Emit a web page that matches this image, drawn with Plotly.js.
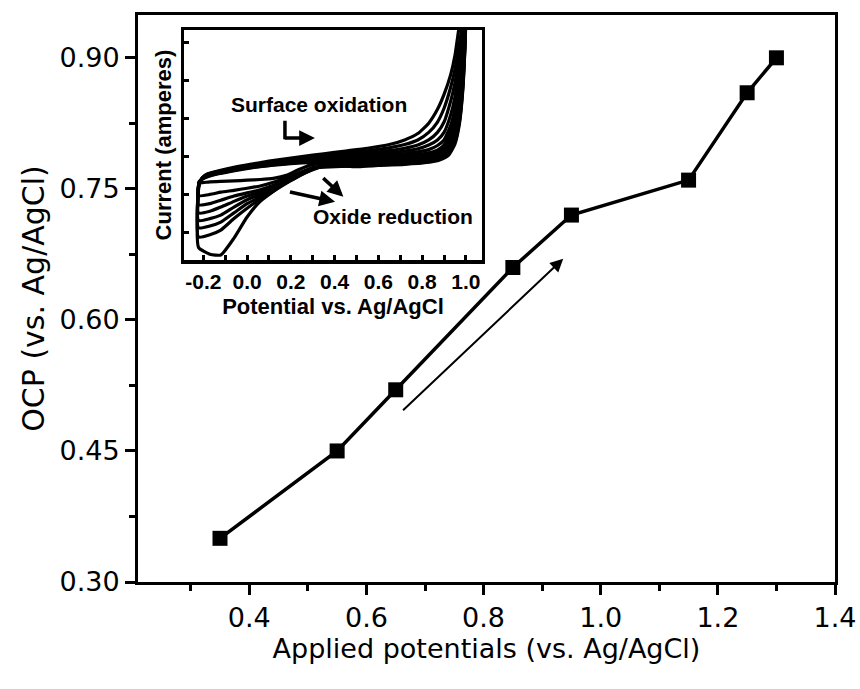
<!DOCTYPE html>
<html>
<head>
<meta charset="utf-8">
<script src="https://cdn.plot.ly/plotly-3.0.1.min.js"></script>
<style>html,body{margin:0;padding:0;background:#fff;}#chart{width:860px;height:689px;}</style>
</head>
<body>
<div id="chart"></div>
<script>
// ---- main series: OCP vs applied potential ----
const appliedPotential = [0.35, 0.55, 0.65, 0.85, 0.95, 1.15, 1.25, 1.30];
const ocp              = [0.35, 0.45, 0.52, 0.66, 0.72, 0.76, 0.86, 0.90];

// ---- inset: cyclic voltammograms (arbitrary current units) ----
const cvForwardE = [-0.222, -0.220, -0.205, -0.18, -0.13, -0.05, 0.05, 0.15, 0.25, 0.35, 0.45, 0.55, 0.65, 0.72, 0.78, 0.83, 0.87, 0.90, 0.93, 0.95, 0.97, 0.99, 1.0];
const cvReverseE = [1.0, 0.995, 0.985, 0.97, 0.95, 0.92, 0.88, 0.82, 0.72, 0.60, 0.48, 0.38, 0.30, 0.24, 0.18, 0.12, 0.06, 0.0, -0.06, -0.12, -0.17, -0.222];

const cycle1Fwd = [0.55, 3.2, 3.58, 3.75, 3.88, 4.05, 4.22, 4.37, 4.5, 4.62, 4.74, 4.86, 5.02, 5.22, 5.5, 5.95, 6.55, 7.2, 8.05, 8.9, 10.2, 11.0, 11.3];
const cycle2Fwd = [1.0, 3.25, 3.57, 3.73, 3.86, 4.02, 4.18, 4.32, 4.44, 4.55, 4.65, 4.75, 4.88, 5.02, 5.22, 5.55, 6.0, 6.6, 7.5, 8.3, 9.4, 10.6, 11.2];
const cycle3Fwd = [1.4, 3.3, 3.56, 3.71, 3.84, 4.0, 4.15, 4.28, 4.39, 4.49, 4.58, 4.66, 4.76, 4.86, 5.0, 5.22, 5.55, 6.0, 6.9, 7.7, 8.9, 10.4, 11.1];
const cycle4Fwd = [1.72, 3.3, 3.55, 3.69, 3.82, 3.98, 4.12, 4.25, 4.35, 4.44, 4.52, 4.58, 4.66, 4.74, 4.84, 5.0, 5.22, 5.55, 6.3, 7.1, 8.4, 10.1, 11.0];
const cycle5Fwd = [2.05, 3.32, 3.54, 3.67, 3.8, 3.96, 4.1, 4.22, 4.31, 4.39, 4.46, 4.51, 4.57, 4.63, 4.7, 4.8, 4.98, 5.22, 5.85, 6.6, 7.9, 9.8, 10.9];
const cycle6Fwd = [2.4, 3.33, 3.53, 3.66, 3.78, 3.94, 4.08, 4.19, 4.28, 4.35, 4.41, 4.45, 4.5, 4.54, 4.59, 4.66, 4.78, 5.0, 5.55, 6.3, 7.6, 9.6, 10.8];
const cycle7Fwd = [2.8, 3.35, 3.52, 3.64, 3.77, 3.92, 4.06, 4.17, 4.25, 4.31, 4.36, 4.4, 4.44, 4.47, 4.51, 4.56, 4.65, 4.85, 5.35, 6.1, 7.4, 9.4, 10.7];
const cycle8Fwd = [3.35, 3.4, 3.52, 3.62, 3.75, 3.9, 4.05, 4.15, 4.22, 4.27, 4.3, 4.33, 4.37, 4.4, 4.44, 4.5, 4.6, 4.8, 5.3, 6.0, 7.3, 9.3, 10.5];

const cycle1Rev = [11.2, 10.2, 8.8, 7.4, 6.2, 5.25, 4.75, 4.5, 4.38, 4.3, 4.24, 4.18, 3.92, 3.68, 3.37, 2.98, 2.55, 1.87, 0.95, 0.22, 0.25, 0.55];
const cycle2Rev = [11.2, 10.0, 8.5, 7.1, 5.95, 5.1, 4.66, 4.44, 4.33, 4.26, 4.2, 4.15, 3.95, 3.66, 3.34, 3.0, 2.65, 2.25, 1.8, 1.3, 1.1, 1.0];
const cycle3Rev = [11.1, 9.8, 8.2, 6.8, 5.75, 4.95, 4.58, 4.39, 4.29, 4.23, 4.17, 4.13, 3.97, 3.68, 3.37, 3.05, 2.75, 2.45, 2.05, 1.65, 1.48, 1.4];
const cycle4Rev = [11.0, 9.6, 7.9, 6.5, 5.55, 4.85, 4.52, 4.35, 4.26, 4.2, 4.15, 4.11, 3.98, 3.7, 3.4, 3.1, 2.85, 2.62, 2.3, 1.95, 1.8, 1.72];
const cycle5Rev = [10.9, 9.4, 7.7, 6.3, 5.4, 4.75, 4.46, 4.31, 4.23, 4.17, 4.12, 4.09, 4.0, 3.72, 3.45, 3.18, 2.95, 2.78, 2.55, 2.3, 2.12, 2.05];
const cycle6Rev = [10.8, 9.3, 7.5, 6.1, 5.25, 4.67, 4.41, 4.28, 4.2, 4.15, 4.1, 4.07, 4.0, 3.75, 3.5, 3.25, 3.05, 2.92, 2.78, 2.6, 2.45, 2.4];
const cycle7Rev = [10.7, 9.2, 7.4, 6.0, 5.15, 4.6, 4.38, 4.26, 4.18, 4.13, 4.08, 4.05, 4.02, 3.8, 3.58, 3.38, 3.22, 3.12, 3.03, 2.95, 2.85, 2.8];
const cycle8Rev = [10.5, 9.1, 7.3, 5.9, 5.05, 4.55, 4.35, 4.24, 4.16, 4.11, 4.06, 4.2, 4.15, 3.95, 3.68, 3.55, 3.5, 3.47, 3.44, 3.42, 3.4, 3.35];

const insetTickE = [-0.2, 0.0, 0.2, 0.4, 0.6, 0.8, 1.0];
const insetTickLabels = ['-0.2', '0.0', '0.2', '0.4', '0.6', '0.8', '1.0'];

const cyclesFwd = [cycle1Fwd, cycle2Fwd, cycle3Fwd, cycle4Fwd, cycle5Fwd, cycle6Fwd, cycle7Fwd, cycle8Fwd];
const cyclesRev = [cycle1Rev, cycle2Rev, cycle3Rev, cycle4Rev, cycle5Rev, cycle6Rev, cycle7Rev, cycle8Rev];

const traces = [];
cyclesFwd.forEach((fwd, i) => {
  traces.push({
    x: cvForwardE.concat(cvReverseE),
    y: fwd.concat(cyclesRev[i]),
    xaxis: 'x2', yaxis: 'y2',
    mode: 'lines',
    line: {color: '#000', width: 3.2, shape: 'spline', smoothing: 0.5},
    hoverinfo: 'skip', showlegend: false
  });
});
traces.push({
  x: appliedPotential, y: ocp,
  xaxis: 'x', yaxis: 'y',
  mode: 'lines+markers',
  line: {color: '#000', width: 3.5},
  marker: {symbol: 'square', size: 15, color: '#000'},
  showlegend: false
});

const mainFont = {family: 'DejaVu Sans, Verdana, sans-serif', size: 27, color: '#000'};
const yTitleFont = {family: 'DejaVu Sans, Verdana, sans-serif', size: 30, color: '#000'};
const insetFont = {family: 'Liberation Sans, Arial, sans-serif', size: 21, color: '#000', weight: 'bold'};
const insetTitleFont = {family: 'Liberation Sans, Arial, sans-serif', size: 22, color: '#000', weight: 'bold'};

const layout = {
  width: 860, height: 689,
  margin: {l: 138, r: 25, t: 15, b: 107},
  paper_bgcolor: '#fff', plot_bgcolor: '#fff',
  showlegend: false,
  xaxis: {
    range: [0.21, 1.4], dtick: 0.2, tick0: 0, tickformat: '.1f',
    ticks: 'outside', ticklen: 10, tickwidth: 3, tickcolor: '#000',
    minor: {dtick: 0.1, tick0: 0, ticks: 'outside', ticklen: 6, tickwidth: 3, tickcolor: '#000'},
    showline: true, linewidth: 3, linecolor: '#000', mirror: true,
    showgrid: false, zeroline: false,
    tickfont: mainFont,
    title: {text: 'Applied potentials (vs. Ag/AgCl)', font: mainFont, standoff: 0}
  },
  yaxis: {
    range: [0.30, 0.949], dtick: 0.15, tick0: 0.30, tickformat: '.2f',
    ticks: 'outside', ticklen: 10, tickwidth: 3, tickcolor: '#000',
    minor: {dtick: 0.075, tick0: 0.30, ticks: 'outside', ticklen: 6, tickwidth: 3, tickcolor: '#000'},
    showline: true, linewidth: 3, linecolor: '#000', mirror: true,
    showgrid: false, zeroline: false,
    tickfont: mainFont,
    title: {text: 'OCP (vs. Ag/AgCl)', font: yTitleFont, standoff: 6}
  },
  xaxis2: {
    domain: [0.0664, 0.4931], anchor: 'y2',
    range: [-0.287, 1.072], tickvals: insetTickE, ticktext: insetTickLabels,
    ticks: 'inside', ticklen: 5, tickwidth: 3, tickcolor: '#000',
    minor: {dtick: 0.1, tick0: 0, ticks: 'inside', ticklen: 5, tickwidth: 3, tickcolor: '#000'},
    showline: true, linewidth: 3.5, linecolor: '#000', mirror: true,
    showgrid: false, zeroline: false,
    tickfont: insetFont, ticklabelstandoff: 0,
    title: {text: 'Potential vs. Ag/AgCl', font: insetTitleFont, standoff: 8}
  },
  yaxis2: {
    domain: [0.5679, 0.9735], anchor: 'x2',
    range: [0, 10], tick0: 1.2, dtick: 1.65, showticklabels: false,
    ticks: 'inside', ticklen: 5, tickwidth: 3, tickcolor: '#000',
    showline: true, linewidth: 3.5, linecolor: '#000', mirror: true,
    showgrid: false, zeroline: false,
    title: {text: 'Current (amperes)', font: insetTitleFont, standoff: 4}
  },
  shapes: [
    {type: 'line', xref: 'x2', yref: 'y2', x0: 0.173, y0: 6.05, x1: 0.173, y1: 5.25, line: {color: '#000', width: 3.5}}
  ],
  annotations: [
    {xref: 'x', yref: 'y', axref: 'x', ayref: 'y', x: 0.936, y: 0.670, ax: 0.660, ay: 0.495,
     text: '', showarrow: true, arrowhead: 2, arrowsize: 1.3, arrowwidth: 2, arrowcolor: '#000'},
    {xref: 'x2', yref: 'y2', axref: 'x2', ayref: 'y2', x: 0.31, y: 5.3, ax: 0.165, ay: 5.3,
     text: '', showarrow: true, arrowhead: 2, arrowsize: 0.9, arrowwidth: 3.5, arrowcolor: '#000'},
    {xref: 'x2', yref: 'y2', axref: 'x2', ayref: 'y2', x: 0.402, y: 2.53, ax: 0.189, ay: 2.97,
     text: '', showarrow: true, arrowhead: 2, arrowsize: 0.9, arrowwidth: 3.5, arrowcolor: '#000'},
    {xref: 'x2', yref: 'y2', axref: 'x2', ayref: 'y2', x: 0.44, y: 2.75, ax: 0.341, ay: 3.62,
     text: '', showarrow: true, arrowhead: 2, arrowsize: 0.9, arrowwidth: 3.5, arrowcolor: '#000'},
    {xref: 'x2', yref: 'y2', x: 0.329, y: 6.74, text: 'Surface oxidation', showarrow: false, font: insetFont},
    {xref: 'x2', yref: 'y2', x: 0.666, y: 1.88, text: 'Oxide reduction', showarrow: false, font: insetFont}
  ]
};

Plotly.newPlot('chart', traces, layout, {displayModeBar: false, staticPlot: true});
</script>
</body>
</html>
